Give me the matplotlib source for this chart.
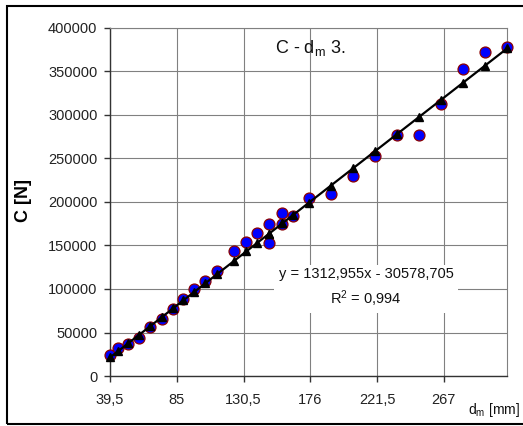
import matplotlib
matplotlib.use("Agg")
import matplotlib.pyplot as plt
from matplotlib.patches import Rectangle

# ---- data ----
d_m = [39.5, 45, 52, 59.5, 67, 75, 82.5, 89.5, 97, 104.5, 112.5, 124, 132.5, 140,
       147.5, 147.5, 157, 157, 164.5, 175, 190, 205, 220, 235, 250, 265, 280, 295, 310]
C_meas = [24100, 32200, 36800, 43700, 56300, 65500, 77000, 88500, 100000, 109000,
          120700, 143700, 154000, 164400, 174700, 153000, 187400, 174700, 184000,
          204600, 209000, 230000, 252900, 277000, 277000, 312600, 352900, 372400, 378200]
slope = 1312.955
intercept = -30578.705
xticks = [39.5, 85, 130.5, 176, 221.5, 267]
xtick_labels = ["39,5", "85", "130,5", "176", "221,5", "267"]
yticks = [0, 50000, 100000, 150000, 200000, 250000, 300000, 350000, 400000]
C_fit = [slope * x + intercept for x in d_m]

plt.rcParams['font.family'] = ['Liberation Sans', 'DejaVu Sans']
plt.rcParams['mathtext.fontset'] = 'custom'
plt.rcParams['mathtext.rm'] = 'Liberation Sans'
plt.rcParams['mathtext.it'] = 'Liberation Sans:italic'
plt.rcParams['mathtext.bf'] = 'Liberation Sans:bold'

W, H = 523, 426
fig = plt.figure(figsize=(W / 100, H / 100), dpi=100)
fig.patch.set_facecolor('white')

L, R, T, B = 110, 507, 28, 376
ax = fig.add_axes([L / W, 1 - B / H, (R - L) / W, (B - T) / H])

ax.scatter(d_m, C_meas, s=62, facecolor='#0000FF', edgecolor='#8B0000',
           linewidth=0.9, zorder=3, clip_on=False)
ax.plot(d_m, C_fit, color='black', lw=1.6, marker='^', markersize=5.5,
        markerfacecolor='black', markeredgecolor='black', zorder=4, clip_on=False)

ax.set_xlim(39.5, 310)
ax.set_ylim(0, 400000)
ax.set_xticks(xticks)
ax.set_xticklabels(xtick_labels)
ax.set_yticks(yticks)
ax.set_yticklabels([str(v) for v in yticks])
ax.grid(True, color='#808080', lw=0.8, zorder=0)
ax.set_axisbelow(True)
for s in ['top', 'right']:
    ax.spines[s].set_color('#808080')
    ax.spines[s].set_linewidth(0.8)
for s in ['left', 'bottom']:
    ax.spines[s].set_color('#333333')
    ax.spines[s].set_linewidth(1.0)
ax.tick_params(axis='both', direction='out', length=4, width=1, colors='#333333',
               labelsize=10.5, labelcolor='#222222')
ax.tick_params(axis='y', pad=5)
ax.tick_params(axis='x', pad=8)

# title inside plot
fig.text(275 / W, 1 - 48 / H, r"C - d$_{\mathregular{m}}$ 3.", fontsize=13,
         ha='left', va='center', color='#111111')

# equation box
fig.text(366 / W, 1 - 288 / H, "y = 1312,955x - 30578,705\nR$^{\\mathregular{2}}$ = 0,994",
         fontsize=10.5, ha='center', va='center', multialignment='center',
         linespacing=1.5, color='#111111',
         bbox=dict(facecolor='white', edgecolor='none', pad=3))

# axis labels
fig.text(23 / W, 1 - 200 / H, "C [N]", fontsize=13, fontweight='bold',
         rotation=90, ha='center', va='center')
fig.text(520 / W, 1 - 410 / H, r"d$_{\mathregular{m}}$ [mm]", fontsize=10,
         ha='right', va='center', color='#111111')

# outer frame (right edge cut off by image boundary)
fig.add_artist(Rectangle((7 / W, 1 - 424 / H), 530 / W, (424 - 6) / H,
                         transform=fig.transFigure, fill=False, edgecolor='black',
                         lw=1.5, clip_on=False))

fig.savefig("out.png", dpi=100)
